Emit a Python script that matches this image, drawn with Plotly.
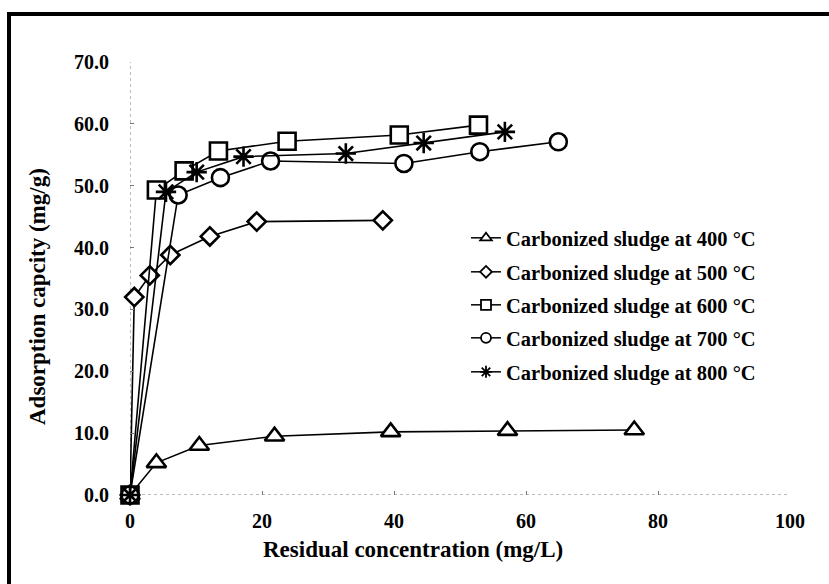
import plotly.graph_objects as go

# ---- data ----
x400 = [0, 4.0, 10.5, 21.9, 39.5, 57.2, 76.4]
y400 = [0, 5.2, 8.0, 9.5, 10.2, 10.4, 10.5]

x500 = [0, 0.65, 3.0, 6.1, 12.1, 19.2, 38.3]
y500 = [0, 32.0, 35.5, 38.8, 41.8, 44.2, 44.4]

x600 = [0, 4.0, 8.2, 13.4, 23.8, 40.8, 52.8]
y600 = [0, 49.3, 52.4, 55.6, 57.2, 58.2, 59.8]

x700 = [0, 7.3, 13.7, 21.3, 41.5, 53.0, 64.9]
y700 = [0, 48.5, 51.3, 54.0, 53.6, 55.5, 57.1]

x800 = [0, 5.45, 10.1, 17.2, 32.7, 44.5, 56.8]
y800 = [0, 49.0, 52.2, 54.7, 55.2, 56.9, 58.7]

names = [
    "Carbonized sludge at 400 \u00b0C",
    "Carbonized sludge at 500 \u00b0C",
    "Carbonized sludge at 600 \u00b0C",
    "Carbonized sludge at 700 \u00b0C",
    "Carbonized sludge at 800 \u00b0C",
]
x_ticks = [0, 20, 40, 60, 80, 100]
y_ticks = [0, 10, 20, 30, 40, 50, 60, 70]

FONT = "Liberation Serif"

# plot area in pixels
L, R, T, B = 130, 790, 62, 495
PW, PH = R - L, B - T


def px_x(p):
    return (p - L) / PW


def px_y(p):
    return (B - p) / PH


series = [
    (x400, y400, "triangle-up", 17, 10),
    (x500, y500, "diamond", 14, 9),
    (x600, y600, "square", 17, 10),
    (x700, y700, "circle", 17, 10),
    (x800, y800, "asterisk", 17, 10),
]
legend_ids = ["legend", "legend2", "legend3", "legend4", "legend5"]
legend_rows = [238, 272, 305, 338, 372]

fig = go.Figure()
for (xs, ys, sym, sz, lsz), nm, lid in zip(series, names, legend_ids):
    fig.add_trace(go.Scatter(
        x=xs, y=ys, name=nm, mode="lines+markers", showlegend=False,
        line=dict(color="black", width=1.6),
        marker=dict(symbol=sym, size=sz, color="white",
                    line=dict(color="black", width=2.6)),
        cliponaxis=False, legendgroup=nm,
    ))
    # legend entry (smaller symbol, as in the reference key)
    fig.add_trace(go.Scatter(
        x=[None], y=[None], name=nm, mode="lines+markers", legend=lid,
        line=dict(color="black", width=1.5),
        marker=dict(symbol=sym, size=lsz, color="white",
                    line=dict(color="black", width=1.8)),
        legendgroup=nm, hoverinfo="skip",
    ))

# dotted axis lines
fig.add_shape(type="line", xref="x", yref="y", x0=0, x1=100, y0=0, y1=0,
              line=dict(color="#777", width=1, dash="dot"), layer="below")
fig.add_shape(type="line", xref="x", yref="y", x0=0, x1=0, y0=0, y1=70,
              line=dict(color="#777", width=1, dash="dot"), layer="below")

# outer frame
fig.add_shape(type="rect", xref="paper", yref="paper",
              x0=px_x(9), x1=px_x(845), y0=px_y(600), y1=px_y(14),
              line=dict(color="black", width=4), fillcolor="rgba(0,0,0,0)")

fig.add_annotation(text="Residual concentration (mg/L)", xref="paper", yref="paper",
                   x=px_x(413), y=px_y(549), showarrow=False,
                   font=dict(family=FONT, size=23, color="black", weight="bold"),
                   xanchor="center", yanchor="middle")
fig.add_annotation(text="Adsorption capcity (mg/g)", xref="paper", yref="paper",
                   x=px_x(37), y=px_y(297), showarrow=False, textangle=-90,
                   font=dict(family=FONT, size=23, color="black", weight="bold"),
                   xanchor="center", yanchor="middle")

legend_common = dict(xanchor="left", yanchor="middle", bgcolor="rgba(0,0,0,0)",
                     font=dict(family=FONT, size=20.5, color="black", weight="bold"),
                     itemsizing="trace", itemwidth=30)
legends = {}
for lid, row in zip(legend_ids, legend_rows):
    legends[lid] = dict(x=px_x(466), y=px_y(row), **legend_common)

fig.update_layout(
    width=829, height=584,
    margin=dict(l=L, r=829 - R, t=T, b=584 - B),
    paper_bgcolor="white", plot_bgcolor="white",
    font=dict(family=FONT, size=20, color="black"),
    showlegend=True,
    xaxis=dict(range=[0, 100], tickvals=x_ticks, ticktext=[str(v) for v in x_ticks],
               tickfont=dict(family=FONT, size=20, color="black", weight="bold"),
               showgrid=False, zeroline=False, showline=False,
               ticks="inside", ticklen=4, tickcolor="#777", ticklabelstandoff=12),
    yaxis=dict(range=[0, 70], tickvals=y_ticks, ticktext=[f"{v:.1f}" for v in y_ticks],
               tickfont=dict(family=FONT, size=20, color="black", weight="bold"),
               showgrid=False, zeroline=False, showline=False,
               ticks="inside", ticklen=4, tickcolor="#777", ticklabelstandoff=20),
    **legends,
)

fig.write_html("out.html")
